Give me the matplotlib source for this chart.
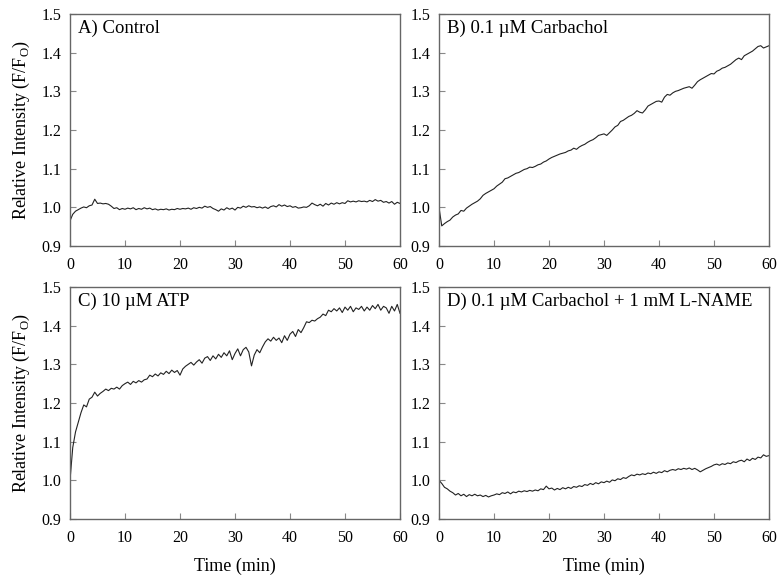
import numpy as np
import matplotlib
matplotlib.use("Agg")
import matplotlib.pyplot as plt

plt.rcParams['font.family'] = ['Liberation Serif', 'DejaVu Serif']
plt.rcParams['mathtext.fontset'] = 'custom'
plt.rcParams['mathtext.rm'] = 'Liberation Serif'

# time axis, one reading every 0.5 min
time_min = np.arange(0, 60.01, 0.5)

control = [
    0.965, 0.982, 0.990, 0.994, 0.998, 1.001, 0.999, 1.004, 1.006, 1.021,
    1.010, 1.011, 1.009, 1.010, 1.008, 1.003, 0.997, 0.999, 0.994, 0.997,
    0.995, 0.998, 0.996, 0.999, 0.994, 0.997, 0.995, 0.999, 0.996, 0.998,
    0.994, 0.996, 0.993, 0.995, 0.994, 0.996, 0.993, 0.995, 0.994, 0.997,
    0.995, 0.997, 0.996, 0.998, 0.995, 0.999, 0.997, 1.000, 0.998, 1.003,
    1.000, 1.002, 0.997, 0.994, 0.990, 0.996, 0.993, 0.999, 0.995, 0.998,
    0.993, 1.000, 0.998, 1.003, 1.000, 1.004, 1.001, 1.002, 0.999, 1.001,
    0.998, 1.001, 0.997, 1.002, 1.004, 1.001, 1.007, 1.003, 1.006, 1.002,
    1.004, 1.000, 1.002, 0.998, 0.999, 1.001, 1.000, 1.004, 1.011, 1.007,
    1.004, 1.008, 1.003, 1.010, 1.006, 1.011, 1.008, 1.012, 1.009, 1.012,
    1.010, 1.017, 1.014, 1.016, 1.014, 1.017, 1.015, 1.016, 1.014, 1.018,
    1.015, 1.020, 1.016, 1.018, 1.013, 1.015, 1.011, 1.015, 1.008, 1.013,
    1.010,
]

carbachol = [
    1.000, 0.952, 0.958, 0.963, 0.967, 0.975, 0.980, 0.983, 0.992, 0.990,
    0.998, 1.003, 1.008, 1.012, 1.016, 1.022, 1.031, 1.036, 1.040, 1.044,
    1.048, 1.055, 1.060, 1.065, 1.074, 1.076, 1.080, 1.084, 1.088, 1.090,
    1.094, 1.098, 1.100, 1.104, 1.103, 1.106, 1.110, 1.112, 1.117, 1.120,
    1.125, 1.129, 1.132, 1.135, 1.138, 1.140, 1.142, 1.146, 1.148, 1.153,
    1.150, 1.156, 1.160, 1.163, 1.168, 1.172, 1.175, 1.180, 1.186, 1.188,
    1.190, 1.186, 1.193, 1.200, 1.208, 1.212, 1.222, 1.225, 1.230, 1.235,
    1.238, 1.243, 1.250, 1.246, 1.244, 1.252, 1.262, 1.266, 1.270, 1.274,
    1.275, 1.272, 1.285, 1.292, 1.290, 1.296, 1.300, 1.302, 1.305, 1.308,
    1.310, 1.312, 1.308, 1.316, 1.325, 1.330, 1.334, 1.338, 1.342, 1.346,
    1.345, 1.352, 1.355, 1.360, 1.362, 1.366, 1.370, 1.376, 1.382, 1.386,
    1.382, 1.392, 1.396, 1.400, 1.404, 1.410, 1.416, 1.418, 1.412, 1.415,
    1.418,
]

atp = [
    1.000, 1.085, 1.125, 1.150, 1.175, 1.195, 1.190, 1.210, 1.215, 1.228,
    1.218, 1.225, 1.230, 1.236, 1.232, 1.238, 1.236, 1.241, 1.236, 1.245,
    1.250, 1.254, 1.248, 1.256, 1.252, 1.258, 1.254, 1.260, 1.262, 1.272,
    1.268, 1.275, 1.270, 1.278, 1.274, 1.282, 1.276, 1.285, 1.279, 1.284,
    1.272, 1.288, 1.295, 1.300, 1.305, 1.298, 1.306, 1.312, 1.303, 1.316,
    1.320, 1.310, 1.322, 1.314, 1.326, 1.318, 1.330, 1.322, 1.335, 1.312,
    1.328, 1.340, 1.322, 1.338, 1.344, 1.332, 1.296, 1.324, 1.338, 1.330,
    1.345, 1.358, 1.366, 1.360, 1.370, 1.362, 1.368, 1.356, 1.374, 1.362,
    1.378, 1.385, 1.372, 1.390, 1.382, 1.395, 1.410, 1.408, 1.414, 1.412,
    1.418, 1.422, 1.430, 1.426, 1.440, 1.436, 1.444, 1.438, 1.446, 1.434,
    1.448, 1.440, 1.450, 1.436, 1.446, 1.442, 1.450, 1.438, 1.448, 1.440,
    1.452, 1.444, 1.455, 1.440, 1.450, 1.446, 1.432, 1.450, 1.438, 1.455,
    1.432,
]

carbachol_lname = [
    1.000, 0.992, 0.982, 0.978, 0.972, 0.968, 0.962, 0.966, 0.960, 0.964,
    0.958, 0.963, 0.960, 0.964, 0.960, 0.962, 0.958, 0.961, 0.957, 0.960,
    0.962, 0.965, 0.963, 0.968, 0.966, 0.970, 0.965, 0.970, 0.968, 0.972,
    0.970, 0.973, 0.971, 0.974, 0.972, 0.975, 0.973, 0.978, 0.976, 0.985,
    0.978, 0.980, 0.975, 0.979, 0.976, 0.981, 0.978, 0.982, 0.979, 0.984,
    0.982, 0.986, 0.984, 0.989, 0.987, 0.992, 0.989, 0.994, 0.991, 0.996,
    0.994, 0.998, 0.995, 1.001, 0.999, 1.004, 1.002, 1.007, 1.005, 1.010,
    1.014, 1.012, 1.016, 1.014, 1.017, 1.015, 1.019, 1.017, 1.021, 1.018,
    1.022, 1.020, 1.025, 1.022, 1.026, 1.028, 1.026, 1.030, 1.028, 1.031,
    1.029, 1.032, 1.028, 1.031, 1.027, 1.022, 1.026, 1.030, 1.033, 1.036,
    1.040, 1.042, 1.039, 1.043, 1.041, 1.045, 1.043, 1.048, 1.046, 1.050,
    1.052, 1.048, 1.055, 1.051, 1.057, 1.054, 1.060, 1.058, 1.066, 1.062,
    1.064,
]

titles = ["A) Control", "B) 0.1 \u00b5M Carbachol", "C) 10 \u00b5M ATP",
          "D) 0.1 \u00b5M Carbachol + 1 mM L-NAME"]
series = [control, carbachol, atp, carbachol_lname]

W, H = 779, 581
fig = plt.figure(figsize=(W / 100, H / 100), dpi=100)

# axes boxes in pixels: left, top, right, bottom
boxes = [(70, 14, 400, 246), (439, 14, 769, 246),
         (70, 287, 400, 519), (439, 287, 769, 519)]

yt = np.arange(0.9, 1.51, 0.1)
for i, (l, t, r, b) in enumerate(boxes):
    ax = fig.add_axes([l / W, 1 - b / H, (r - l) / W, (b - t) / H])
    ax.plot(time_min, series[i], color='#222222', lw=0.8)
    ax.set_xlim(0, 60)
    ax.set_ylim(0.9, 1.5)
    ax.set_xticks(range(0, 61, 10))
    ax.set_yticks(yt)
    ax.set_yticklabels([f"{v:.1f}" for v in yt])
    ax.tick_params(direction='in', length=4, width=0.8, color='#888888',
                   labelsize=11.5)
    ax.tick_params(axis='x', pad=8)
    ax.tick_params(axis='y', pad=6)
    for s in ax.spines.values():
        s.set_color('#666666')
        s.set_linewidth(1.0)
    ax.text(0.025, 0.975, titles[i], transform=ax.transAxes, fontsize=13.5,
            va='top', ha='left')
    if i % 2 == 0:
        ax.set_ylabel("Relative Intensity (F/F$_\\mathrm{O}$)", fontsize=13,
                      labelpad=7)
    if i >= 2:
        ax.set_xlabel("Time (min)", fontsize=13, labelpad=8)

fig.savefig("out.png", dpi=100)
